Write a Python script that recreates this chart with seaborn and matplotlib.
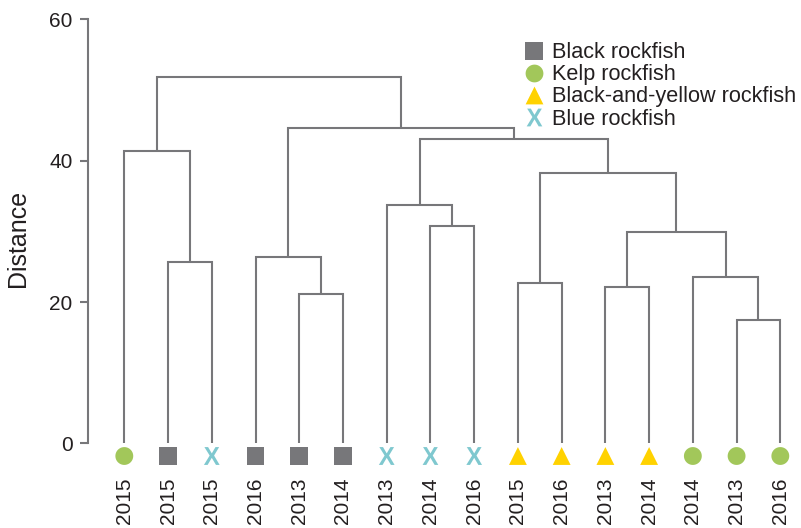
import numpy as np
import pandas as pd
import matplotlib
matplotlib.use("Agg")
import matplotlib.pyplot as plt
from matplotlib.path import Path
from matplotlib.textpath import TextPath
from matplotlib.font_manager import FontProperties
from matplotlib.lines import Line2D
import seaborn as sns

# ---- data -------------------------------------------------------------
leaf_species = ["Kelp rockfish", "Black rockfish", "Blue rockfish",
                "Black rockfish", "Black rockfish", "Black rockfish",
                "Blue rockfish", "Blue rockfish", "Blue rockfish",
                "Black-and-yellow rockfish", "Black-and-yellow rockfish",
                "Black-and-yellow rockfish", "Black-and-yellow rockfish",
                "Kelp rockfish", "Kelp rockfish", "Kelp rockfish"]
leaf_years = ["2015", "2015", "2015", "2016", "2013", "2014", "2013", "2014",
              "2016", "2015", "2016", "2013", "2014", "2014", "2013", "2016"]

# agglomeration steps: ids 0-15 are leaves, 16+ are the clusters formed here
merge_pairs = [(1, 2), (0, 16), (4, 5), (3, 18), (7, 8), (6, 20), (9, 10),
               (11, 12), (14, 15), (13, 24), (23, 25), (22, 26), (21, 27),
               (19, 28), (17, 29)]
merge_heights = [25.7, 41.4, 21.2, 26.4, 30.7, 33.7, 22.7, 22.1, 17.4, 23.6,
                 29.9, 38.2, 43.1, 44.6, 51.9]

species_order = ["Black rockfish", "Kelp rockfish",
                 "Black-and-yellow rockfish", "Blue rockfish"]
y_ticks = [0, 20, 40, 60]

# ---- styling ----------------------------------------------------------
sns.set_style("white")
plt.rcParams["font.family"] = ["Liberation Sans", "DejaVu Sans"]

line_col = "#77777a"
text_col = "#231f20"
palette = {"Black rockfish": "#77777a", "Kelp rockfish": "#a2c75a",
           "Black-and-yellow rockfish": "#ffd200", "Blue rockfish": "#7fc8cf"}


def shape(kind, aspect=1.0):
    """Closed marker outline with given width/height ratio."""
    if kind == "square":
        v = [(-aspect, -1), (aspect, -1), (aspect, 1), (-aspect, 1), (-aspect, -1)]
        return Path(v, closed=True)
    if kind == "circle":
        t = np.linspace(0, 2 * np.pi, 72)
        v = np.column_stack([aspect * np.cos(t), np.sin(t)])
        return Path(v, closed=True)
    if kind == "triangle":
        v = [(0, 1), (-aspect, -1), (aspect, -1), (0, 1)]
        return Path(v, closed=True)
    tp = TextPath((0, 0), "X", size=1,
                  prop=FontProperties(family="Liberation Sans", weight="bold"))
    ext = tp.get_extents()
    v = tp.vertices.copy()
    v[:, 0] = (v[:, 0] - (ext.x0 + ext.x1) / 2) / (ext.width / 2) * aspect
    v[:, 1] = (v[:, 1] - (ext.y0 + ext.y1) / 2) / (ext.height / 2)
    return Path(v, tp.codes)


kinds = {"Black rockfish": "square", "Kelp rockfish": "circle",
         "Black-and-yellow rockfish": "triangle", "Blue rockfish": "x"}
markers = {s: shape(k, 0.88 if k == "x" else 1.0) for s, k in kinds.items()}

# ---- figure -----------------------------------------------------------
W, H = 801, 528
fig = plt.figure(figsize=(W / 100, H / 100), dpi=100)
ax = fig.add_axes([87.7 / W, 1 - 464.7 / H, (800 - 87.7) / W, (464.7 - 19.3) / H])
ax.set_xlim(-0.837, 15.45)
ax.set_ylim(-3, 60)

# dendrogram links
pos = {i: float(i) for i in range(len(leaf_species))}
base = {i: 0.0 for i in range(len(leaf_species))}
for k, ((a, b), h) in enumerate(zip(merge_pairs, merge_heights)):
    node = len(leaf_species) + k
    ax.plot([pos[a], pos[a], pos[b], pos[b]], [base[a], h, h, base[b]],
            color=line_col, lw=1.5, solid_joinstyle="miter",
            solid_capstyle="butt")
    pos[node] = (pos[a] + pos[b]) / 2
    base[node] = h

# leaf markers
leaves = pd.DataFrame({"leaf": np.arange(len(leaf_species)),
                       "species": leaf_species})
leaves["y"] = -1.77
sns.scatterplot(data=leaves, x="leaf", y="y", hue="species", style="species",
                palette=palette, markers=markers, s=165, linewidth=0,
                legend=False, clip_on=False, ax=ax, zorder=3)

# axes
for side in ["top", "right", "bottom"]:
    ax.spines[side].set_visible(False)
ax.spines["left"].set_bounds(0, 60)
ax.spines["left"].set_color(line_col)
ax.spines["left"].set_linewidth(1.5)
ax.set_yticks(y_ticks)
ax.tick_params(axis="y", left=True, length=6, width=1.5, color=line_col,
               pad=5, labelsize=15, labelcolor=text_col)
ax.set_xticks(range(len(leaf_years)))
ax.set_xticklabels(leaf_years, rotation=90, va="top", ha="center")
ax.tick_params(axis="x", bottom=False, length=0, pad=8.9, labelsize=15,
               labelcolor=text_col)
ax.set_xlabel("")
ax.set_ylabel("Distance", fontsize=18, color=text_col)
ax.yaxis.set_label_coords((30 - 87.7) / 712.3, (464.7 - 238.5) / 445.4)
ax.grid(False)

# legend
handles = [Line2D([], [], linestyle="", marker=markers[s],
                  markersize=12.8, color=palette[s], markeredgewidth=0)
           for s in species_order]
fig.legend(handles, species_order, loc="upper left",
           bbox_to_anchor=(522.75 / W, 1 - 42.3 / H), frameon=False,
           fontsize=15.6, handlelength=1.0, handletextpad=0.36,
           labelspacing=0.05, borderpad=0, borderaxespad=0,
           labelcolor=text_col)

fig.savefig("out.png", dpi=100)
